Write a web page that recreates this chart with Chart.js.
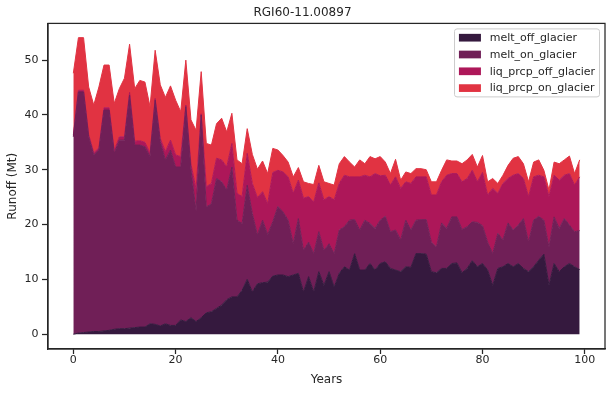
<!DOCTYPE html>
<html>
<head>
<meta charset="utf-8">
<script src="https://cdn.jsdelivr.net/npm/chart.js@4.4.0/dist/chart.umd.min.js"></script>
<style>
  html, body { margin: 0; padding: 0; background: #ffffff; }
  #wrap { width: 612px; height: 393px; position: relative; }
</style>
</head>
<body>
<div id="wrap"><canvas id="c"></canvas></div>
<script>
const years = Array.from({ length: 100 }, (_, i) => i);

const meltOffGlacier = [
  0.0, 0.2, 0.3, 0.4, 0.5, 0.5, 0.6, 0.7, 0.9, 1.0,
  1.0, 1.1, 1.2, 1.3, 1.3, 1.9, 1.8, 1.5, 1.9, 1.6,
  1.6, 2.6, 2.3, 3.0, 2.3, 3.0, 3.9, 4.1, 4.7, 5.3,
  6.3, 6.8, 6.8, 8.0, 10.0, 7.7, 9.2, 9.4, 9.5, 10.6,
  10.8, 10.8, 10.5, 10.8, 11.1, 7.7, 10.5, 7.7, 11.4, 8.9,
  11.4, 8.6, 11.1, 12.3, 11.7, 14.7, 11.7, 11.7, 12.9, 11.7,
  12.9, 13.2, 12.0, 11.7, 11.4, 12.3, 12.2, 14.7, 14.7, 14.6,
  11.4, 11.2, 12.0, 12.0, 12.9, 13.0, 11.2, 12.0, 13.4, 12.3,
  12.9, 11.7, 8.9, 12.0, 12.3, 12.9, 12.3, 12.9, 12.0, 11.4,
  12.3, 13.5, 14.6, 8.9, 12.9, 11.4, 12.3, 12.9, 12.3, 11.8
];
const meltOnGlacier = [
  36.0, 44.0, 43.9, 35.6, 32.2, 33.1, 40.3, 40.2, 32.1, 34.4,
  34.4, 42.5, 33.3, 33.2, 32.9, 30.5, 40.9, 33.6, 29.9, 32.0,
  28.9, 27.9, 39.2, 27.0, 20.2, 37.0, 19.3, 19.7, 23.7, 22.5,
  20.0, 23.7, 14.0, 12.2, 17.2, 14.3, 8.9, 11.4, 8.7, 9.9,
  12.5, 11.5, 10.3, 5.7, 10.0, 7.6, 6.3, 7.0, 7.3, 6.4,
  5.1, 6.1, 7.9, 7.3, 9.1, 6.2, 7.3, 9.1, 7.3, 7.6,
  7.9, 8.3, 6.7, 7.3, 5.8, 8.5, 6.8, 6.1, 6.2, 6.3,
  5.4, 4.7, 8.3, 7.3, 8.5, 8.4, 7.9, 7.6, 7.1, 8.1,
  6.9, 5.1, 5.8, 6.4, 4.9, 7.4, 6.7, 7.0, 9.1, 5.4,
  8.5, 8.0, 6.2, 7.0, 8.5, 7.9, 8.8, 7.0, 6.4, 7.1
];
const liqPrcpOffGlacier = [
  0.3, 0.3, 0.3, 0.4, 0.4, 0.4, 0.4, 0.4, 0.5, 0.6,
  0.6, 0.5, 0.7, 0.8, 0.8, 0.6, 0.3, 0.6, 1.5, 1.8,
  2.2, 1.9, 0.3, 1.0, 4.0, 0.2, 3.7, 3.7, 3.7, 4.0,
  4.2, 4.3, 4.9, 4.9, 5.8, 5.5, 6.8, 5.2, 5.6, 9.0,
  6.6, 7.3, 7.9, 9.2, 7.0, 9.5, 8.3, 9.4, 8.9, 9.2,
  8.6, 9.8, 8.5, 9.4, 7.9, 7.8, 9.7, 8.2, 8.5, 10.0,
  8.1, 7.5, 8.5, 9.7, 9.4, 7.0, 8.5, 7.9, 7.8, 7.8,
  8.6, 9.5, 7.5, 9.7, 7.9, 7.9, 8.7, 8.8, 9.4, 7.4,
  9.7, 8.6, 11.9, 7.3, 10.3, 8.1, 10.0, 9.4, 7.3, 8.3,
  7.9, 7.5, 7.9, 9.2, 7.6, 8.8, 7.9, 9.4, 8.5, 9.8
];
const liqPrcpOnGlacier = [
  11.3, 9.6, 9.6, 8.7, 8.7, 11.1, 7.8, 7.8, 8.6, 8.8,
  10.7, 8.8, 9.6, 11.0, 11.0, 8.5, 8.8, 9.8, 9.9, 9.9,
  10.0, 8.2, 8.2, 8.1, 10.7, 7.7, 7.9, 7.0, 6.3, 7.6,
  6.4, 5.5, 6.1, 6.0, 4.5, 5.3, 5.2, 5.6, 5.5, 4.4,
  3.7, 3.0, 2.7, 3.0, 2.3, 3.0, 2.4, 3.2, 3.2, 3.3,
  2.4, 2.7, 3.6, 3.4, 2.7, 1.8, 3.1, 2.1, 3.7, 2.7,
  3.5, 2.4, 2.1, 3.2, 1.5, 1.8, 1.8, 1.5, 1.5, 1.3,
  2.4, 2.4, 2.1, 2.8, 2.3, 2.3, 3.3, 3.4, 2.9, 2.7,
  3.1, 2.4, 1.8, 1.8, 1.5, 2.4, 3.1, 3.1, 2.7, 2.7,
  2.7, 2.8, 1.2, 1.2, 2.4, 3.0, 2.8, 3.2, 2.1, 3.1
];

const seriesNames = ['melt_off_glacier', 'melt_on_glacier', 'liq_prcp_off_glacier', 'liq_prcp_on_glacier'];
const seriesValues = [meltOffGlacier, meltOnGlacier, liqPrcpOffGlacier, liqPrcpOnGlacier];
const seriesColors = ['#35193e', '#701f57', '#ad1759', '#e13342'];

const xTicks = [0, 20, 40, 60, 80, 100];
const yTicks = [0, 10, 20, 30, 40, 50];

const INK = '#262626';
Chart.defaults.font.family = "'DejaVu Sans', sans-serif";
Chart.defaults.color = INK;

const datasets = seriesValues.map((vals, k) => ({
  label: seriesNames[k],
  data: years.map((yr, i) => ({ x: yr, y: vals[i] })),
  backgroundColor: seriesColors[k],
  borderColor: seriesColors[k],
  borderWidth: 1,
  pointRadius: 0,
  tension: 0,
  fill: k === 0 ? 'origin' : '-1'
}));

const frameAndLegend = {
  id: 'frameAndLegend',
  afterDatasetsDraw(chart) {
    const { ctx, chartArea: a } = chart;
    ctx.save();
    ctx.strokeStyle = INK;
    ctx.lineWidth = 1.25;
    ctx.strokeRect(a.left, a.top, a.right - a.left, a.bottom - a.top);

    const fs = 11;
    ctx.font = fs + "px 'DejaVu Sans', sans-serif";
    let maxW = 0;
    seriesNames.forEach(n => { maxW = Math.max(maxW, ctx.measureText(n).width); });
    const pad = 4.4, handleW = 22, handleH = 7.7, textPad = 8.8, rowH = 16.8;
    const boxW = pad + handleW + textPad + maxW + pad;
    const boxH = 68;
    const bx = a.right - 5.5 - boxW;
    const by = a.top + 5.5;
    const r = 2.5;
    ctx.beginPath();
    ctx.moveTo(bx + r, by);
    ctx.lineTo(bx + boxW - r, by);
    ctx.quadraticCurveTo(bx + boxW, by, bx + boxW, by + r);
    ctx.lineTo(bx + boxW, by + boxH - r);
    ctx.quadraticCurveTo(bx + boxW, by + boxH, bx + boxW - r, by + boxH);
    ctx.lineTo(bx + r, by + boxH);
    ctx.quadraticCurveTo(bx, by + boxH, bx, by + boxH - r);
    ctx.lineTo(bx, by + r);
    ctx.quadraticCurveTo(bx, by, bx + r, by);
    ctx.closePath();
    ctx.fillStyle = 'rgba(255,255,255,0.8)';
    ctx.fill();
    ctx.strokeStyle = '#cccccc';
    ctx.lineWidth = 1;
    ctx.stroke();

    ctx.textBaseline = 'middle';
    ctx.textAlign = 'left';
    seriesNames.forEach((n, k) => {
      const cy = by + 8.8 + k * rowH;
      ctx.fillStyle = seriesColors[k];
      ctx.fillRect(bx + pad, cy - handleH / 2, handleW, handleH);
      ctx.fillStyle = INK;
      ctx.fillText(n, bx + pad + handleW + textPad, cy + 0.5);
    });
    ctx.restore();
  }
};

new Chart(document.getElementById('c'), {
  type: 'line',
  data: { datasets },
  plugins: [frameAndLegend],
  options: {
    responsive: true,
    maintainAspectRatio: false,
    animation: false,
    events: [],
    layout: { padding: { left: 0, right: 7, top: 0, bottom: 0 } },
    plugins: {
      legend: { display: false },
      tooltip: { enabled: false },
      title: {
        display: true,
        text: 'RGI60-11.00897',
        color: INK,
        font: { size: 12, weight: 'normal' },
        padding: { top: 6, bottom: 3 }
      }
    },
    scales: {
      x: {
        type: 'linear',
        min: -4.95,
        max: 103.95,
        afterBuildTicks: s => { s.ticks = xTicks.map(v => ({ value: v })); },
        afterFit: s => { s.height = 44; },
        ticks: { font: { size: 11 }, color: INK, padding: 0, maxRotation: 0 },
        grid: { display: true, drawOnChartArea: false, drawTicks: true, tickLength: 5, tickWidth: 1.25, tickColor: INK },
        border: { display: true, color: INK, width: 1.25 },
        title: { display: true, text: 'Years', color: INK, font: { size: 12 }, padding: { top: 0, bottom: 6 } }
      },
      y: {
        type: 'linear',
        stacked: true,
        min: -2.7,
        max: 56.7,
        afterBuildTicks: s => { s.ticks = yTicks.map(v => ({ value: v })); },
        afterFit: s => { s.width = 48; },
        ticks: { font: { size: 11 }, color: INK, padding: 3.5 },
        grid: { display: true, drawOnChartArea: false, drawTicks: true, tickLength: 6, tickWidth: 1.25, tickColor: INK },
        border: { display: true, color: INK, width: 1.25 },
        title: { display: true, text: 'Runoff (Mt)', color: INK, font: { size: 12 }, padding: { top: 5.8, bottom: 0 } }
      }
    }
  }
});
</script>
</body>
</html>
